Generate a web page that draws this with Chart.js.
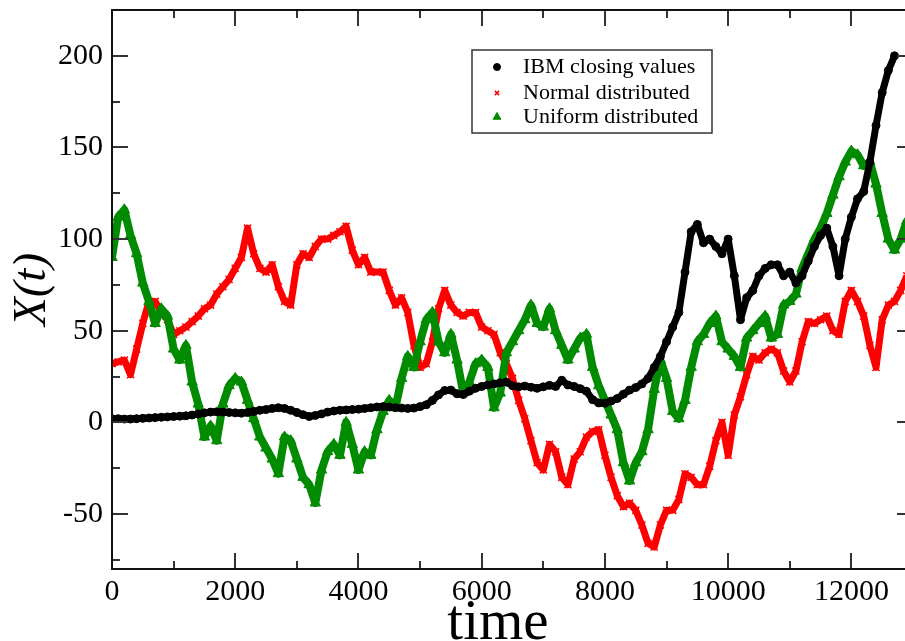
<!DOCTYPE html>
<html>
<head>
<meta charset="utf-8">
<script src="https://cdn.jsdelivr.net/npm/chart.js@4"></script>
<style>
  html, body { margin: 0; padding: 0; background: #fff; overflow: hidden; }
  #wrap { width: 920px; height: 641px; }
</style>
</head>
<body>
<div id="wrap"><canvas id="chart" width="920" height="641"></canvas></div>
<script>
// sampling times (every 100 steps)
const times = [
  0, 100, 200, 300, 400, 500, 600, 700, 800, 900,
  1000, 1100, 1200, 1300, 1400, 1500, 1600, 1700, 1800, 1900,
  2000, 2100, 2200, 2300, 2400, 2500, 2600, 2700, 2800, 2900,
  3000, 3100, 3200, 3300, 3400, 3500, 3600, 3700, 3800, 3900,
  4000, 4100, 4200, 4300, 4400, 4500, 4600, 4700, 4800, 4900,
  5000, 5100, 5200, 5300, 5400, 5500, 5600, 5700, 5800, 5900,
  6000, 6100, 6200, 6300, 6400, 6500, 6600, 6700, 6800, 6900,
  7000, 7100, 7200, 7300, 7400, 7500, 7600, 7700, 7800, 7900,
  8000, 8100, 8200, 8300, 8400, 8500, 8600, 8700, 8800, 8900,
  9000, 9100, 9200, 9300, 9400, 9500, 9600, 9700, 9800, 9900,
  10000, 10100, 10200, 10300, 10400, 10500, 10600, 10700, 10800, 10900,
  11000, 11100, 11200, 11300, 11400, 11500, 11600, 11700, 11800, 11900,
  12000, 12100, 12200, 12300, 12400, 12500, 12600, 12700, 12800, 12900
];

// IBM closing values (ends at t = 12700)
const ibm = [
  2.0, 2.0, 1.8, 1.8, 2.0, 2.2, 2.4, 2.6, 2.8, 3.0,
  3.2, 3.4, 3.6, 4.0, 4.6, 5.2, 5.6, 5.8, 5.6, 5.4,
  5.2, 5.0, 5.4, 6.0, 6.6, 7.0, 7.6, 8.0, 7.6, 6.6,
  5.4, 4.2, 3.2, 3.8, 4.6, 5.6, 6.2, 6.6, 6.8, 7.0,
  7.2, 7.6, 8.0, 8.4, 8.6, 8.4, 8.0, 7.8, 7.6, 7.8,
  8.6, 9.6, 12, 15, 17.4, 17.6, 15.6, 15.2, 17, 18.6,
  19.6, 20.4, 21, 21.6, 22, 20, 19.4, 19.8, 19.2, 18.6,
  19.4, 20.2, 19.6, 23, 20.4, 19.6, 18.4, 17, 12.4, 10.6,
  10.4, 11.6, 13, 15.4, 17.6, 19, 21, 24, 30, 36,
  44, 52, 60, 82, 104, 108, 98, 100, 96, 92,
  100, 80, 56, 68, 72, 80, 84, 86, 86, 80,
  82, 76, 80, 88, 96, 102, 106, 96, 80, 100,
  112, 122, 126, 142, 162, 180, 192, 200
];

// Normal distributed increments
const normal = [
  32, 33, 34, 26, 40, 54, 66, 66, 60, 56,
  48, 50, 52, 55, 58, 62, 64, 70, 74, 78,
  84, 90, 106, 92, 84, 82, 86, 74, 66, 64,
  86, 92, 90, 96, 100, 100, 102, 104, 107, 94,
  86, 90, 82, 82, 82, 72, 64, 68, 60, 42,
  30, 32, 44, 62, 72, 64, 60, 58, 60, 60,
  52, 50, 48, 38, 32, 24, 12, 2, -10, -22,
  -26, -12, -16, -30, -34, -20, -16, -8, -5, -4,
  -18, -30, -40, -46, -44, -48, -56, -66, -68, -56,
  -48, -48, -42, -28, -30, -34, -34, -24, -10, 0,
  -18, 4, 14, 26, 36, 34, 38, 40, 38, 28,
  22, 28, 44, 55, 54, 56, 58, 50, 48, 66,
  72, 66, 58, 42, 30, 56, 64, 66, 72, 80
];

// Uniform distributed increments
const uniform = [
  90, 112, 116, 102, 92, 76, 66, 54, 62, 58,
  40, 34, 42, 22, 10, -8, -2, -10, 10, 20,
  24, 22, 12, 2, -8, -14, -20, -28, -8, -10,
  -20, -30, -34, -44, -26, -16, -12, -18, 0, -12,
  -26, -16, -18, -4, 6, 12, 8, 24, 36, 30,
  44, 56, 60, 44, 38, 48, 34, 16, 22, 32,
  34, 30, 8, 16, 38, 44, 50, 56, 64, 54,
  52, 62, 50, 42, 34, 40, 46, 48, 30, 20,
  12, 4, -4, -22, -32, -22, -16, -4, 18, 34,
  24, 6, 2, 12, 30, 44, 48, 54, 58, 44,
  40, 36, 30, 46, 50, 54, 58, 46, 48, 64,
  66, 70, 84, 92, 100, 106, 114, 124, 134, 142,
  148, 146, 140, 142, 130, 114, 100, 94, 100, 110
];

const yLabelTicks = [-50, 0, 50, 100, 150, 200];
const xLabelTicks = [0, 2000, 4000, 6000, 8000, 10000, 12000];

const GREEN = '#008b00';
const RED = '#ff0000';
const SERIF = '"Liberation Serif", "DejaVu Serif", serif';

function pts(values) {
  return values.map((v, i) => ({ x: times[i], y: v }));
}

// frame with inward ticks on all four sides, legend box and x title
const framePlugin = {
  id: 'frame',
  afterDatasetsDraw(chart) {
    const ctx = chart.ctx;
    const a = chart.chartArea;
    const xs = chart.scales.x, ys = chart.scales.y;
    ctx.save();
    ctx.strokeStyle = '#333';
    ctx.lineWidth = 2;
    ctx.beginPath();
    xs.ticks.forEach(t => {
      const px = Math.round(xs.getPixelForValue(t.value));
      const len = xLabelTicks.includes(t.value) ? 16 : 8;
      ctx.moveTo(px, a.bottom); ctx.lineTo(px, a.bottom - len);
      ctx.moveTo(px, a.top); ctx.lineTo(px, a.top + len);
    });
    ys.ticks.forEach(t => {
      const py = Math.round(ys.getPixelForValue(t.value));
      const len = yLabelTicks.includes(t.value) ? 16 : 8;
      ctx.moveTo(a.left, py); ctx.lineTo(a.left + len, py);
      ctx.moveTo(a.right, py); ctx.lineTo(a.right - len, py);
    });
    ctx.stroke();
    ctx.strokeStyle = '#111';
    ctx.strokeRect(a.left, a.top, a.right - a.left, a.bottom - a.top);

    // legend
    const bx = 472, by = 50, bw = 240, bh = 83;
    ctx.fillStyle = '#fff';
    ctx.fillRect(bx, by, bw, bh);
    ctx.lineWidth = 1.5;
    ctx.strokeStyle = '#333';
    ctx.strokeRect(bx, by, bw, bh);
    ctx.font = '22px ' + SERIF;
    ctx.textBaseline = 'middle';
    ctx.fillStyle = '#000';
    const rows = [67, 93, 117];
    chart.data.datasets.forEach((ds, i) => {
      const style = {
        pointStyle: ds.pointStyle,
        radius: ds.legendRadius,
        borderWidth: ds.pointBorderWidth
      };
      ctx.fillStyle = ds.pointBackgroundColor;
      ctx.strokeStyle = ds.pointBorderColor;
      ctx.lineWidth = ds.pointBorderWidth;
      Chart.helpers.drawPoint(ctx, style, 497, rows[i]);
      ctx.fillStyle = '#000';
      ctx.fillText(ds.label, 523, rows[i]);
    });

    // x axis title
    ctx.font = '57px ' + SERIF;
    ctx.textAlign = 'center';
    ctx.textBaseline = 'alphabetic';
    ctx.fillText('time', 498, 639);
    ctx.restore();
  }
};

new Chart(document.getElementById('chart'), {
  type: 'scatter',
  data: {
    datasets: [
      {
        label: 'IBM closing values',
        data: pts(ibm),
        showLine: true,
        borderColor: '#000',
        borderWidth: 7,
        borderJoinStyle: 'round',
        pointStyle: 'circle',
        pointRadius: 4,
        legendRadius: 3.5,
        pointBackgroundColor: '#000',
        pointBorderColor: '#000',
        pointBorderWidth: 1,
        order: 0
      },
      {
        label: 'Normal distributed',
        data: pts(normal),
        showLine: true,
        borderColor: RED,
        borderWidth: 7,
        borderJoinStyle: 'round',
        pointStyle: 'crossRot',
        pointRadius: 5,
        legendRadius: 3,
        pointBackgroundColor: RED,
        pointBorderColor: RED,
        pointBorderWidth: 1.5,
        order: 2
      },
      {
        label: 'Uniform distributed',
        data: pts(uniform),
        showLine: true,
        borderColor: GREEN,
        borderWidth: 8,
        borderJoinStyle: 'round',
        pointStyle: 'triangle',
        pointRadius: 6,
        legendRadius: 4.5,
        pointBackgroundColor: GREEN,
        pointBorderColor: GREEN,
        pointBorderWidth: 1,
        order: 1
      }
    ]
  },
  options: {
    responsive: false,
    animation: false,
    layout: { padding: { top: 10, right: 7, left: 0, bottom: 0 } },
    scales: {
      x: {
        type: 'linear',
        min: 0,
        max: 13000,
        grid: { display: false, drawTicks: false },
        border: { display: false },
        ticks: {
          stepSize: 1000,
          includeBounds: false,
          autoSkip: false,
          maxRotation: 0,
          padding: 5,
          color: '#000',
          font: { family: SERIF, size: 30 },
          callback: v => xLabelTicks.includes(v) ? String(v) : ''
        },
        afterFit: s => { s.height = 72; s.paddingLeft = 0; s.paddingRight = 0; }
      },
      y: {
        min: -80,
        max: 225,
        grid: { display: false, drawTicks: false },
        border: { display: false },
        title: {
          display: true,
          text: 'X(t)',
          color: '#000',
          font: { family: SERIF, size: 47, style: 'italic' },
          padding: { top: 4, bottom: 0 }
        },
        ticks: {
          stepSize: 25,
          includeBounds: false,
          autoSkip: false,
          padding: 9,
          color: '#000',
          font: { family: SERIF, size: 30 },
          callback: v => yLabelTicks.includes(v) ? String(v) : ''
        },
        afterFit: s => { s.width = 112; s.paddingTop = 0; s.paddingBottom = 0; }
      }
    },
    plugins: {
      legend: { display: false },
      tooltip: { enabled: false }
    }
  },
  plugins: [framePlugin]
});
</script>
</body>
</html>
